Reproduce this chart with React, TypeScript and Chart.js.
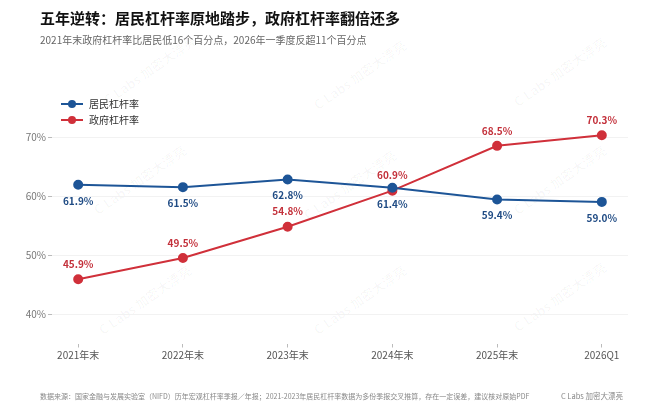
import React, { useEffect, useRef } from "react";
import { Chart, registerables } from "chart.js";

Chart.register(...registerables);

const categories = ["2021年末", "2022年末", "2023年末", "2024年末", "2025年末", "2026Q1"];
const householdValues = [61.9, 61.5, 62.8, 61.4, 59.4, 59.0];
const governmentValues = [45.9, 49.5, 54.8, 60.9, 68.5, 70.3];
const yTickValues = [40, 50, 60, 70];
const seriesNames = ["居民杠杆率", "政府杠杆率"];

const titleText = "五年逆转：居民杠杆率原地踏步，政府杠杆率翻倍还多";
const subtitleText = "2021年末政府杠杆率比居民低16个百分点，2026年一季度反超11个百分点";
const footerText =
  "数据来源：国家金融与发展实验室（NIFD）历年宏观杠杆率季报／年报；2021-2023年居民杠杆率数据为多份季报交叉推算，存在一定误差，建议核对原始PDF";
const brandText = "C Labs 加密大漂亮";

const BLUE = "#1d5597";
const BLUE_LABEL = "#1f4b84";
const RED = "#d0303a";
const RED_LABEL = "#c3303a";
const FONT = '"Noto Sans CJK SC", "Noto Sans", sans-serif';

const labelPlugin = {
  id: "valueLabels",
  afterDatasetsDraw(chart: any) {
    const ctx = chart.ctx;
    chart.data.datasets.forEach((ds: any, i: number) => {
      const meta = chart.getDatasetMeta(i);
      ctx.save();
      ctx.font = `bold 10px ${FONT}`;
      ctx.fillStyle = ds.labelColor;
      ctx.textAlign = "center";
      ctx.textBaseline = "middle";
      meta.data.forEach((pt: any, j: number) => {
        const v = ds.data[j].y;
        ctx.fillText(v.toFixed(1) + "%", pt.x, pt.y + ds.labelOffset);
      });
      ctx.restore();
    });
  },
};

const watermarks = [
  [150, 70], [360, 75], [560, 72],
  [140, 180], [350, 185], [560, 180],
  [145, 300], [360, 300], [560, 297],
];

export default function App() {
  const ref = useRef<HTMLCanvasElement | null>(null);

  useEffect(() => {
    if (!ref.current) return;
    const chart = new Chart(ref.current, {
      type: "line",
      data: {
        datasets: [
          {
            label: seriesNames[0],
            data: householdValues.map((v, i) => ({ x: i, y: v })),
            borderColor: BLUE,
            backgroundColor: BLUE,
            pointBackgroundColor: BLUE,
            pointBorderColor: BLUE,
            borderWidth: 2,
            pointRadius: 4,
            tension: 0,
            labelColor: BLUE_LABEL,
            labelOffset: 16,
          } as any,
          {
            label: seriesNames[1],
            data: governmentValues.map((v, i) => ({ x: i, y: v })),
            borderColor: RED,
            backgroundColor: RED,
            pointBackgroundColor: RED,
            pointBorderColor: RED,
            borderWidth: 2,
            pointRadius: 4,
            tension: 0,
            labelColor: RED_LABEL,
            labelOffset: -15,
          } as any,
        ],
      },
      options: {
        responsive: false,
        animation: false,
        devicePixelRatio: 1,
        layout: { padding: { left: 22, right: 32, top: 107.5, bottom: 45.5 } },
        plugins: { legend: { display: false }, tooltip: { enabled: false } },
        scales: {
          x: {
            type: "linear",
            min: -0.25,
            max: 5.25,
            afterBuildTicks: (scale: any) => {
              scale.ticks = categories.map((_, i) => ({ value: i }));
            },
            afterFit: (scale: any) => {
              scale.height = 20;
            },
            ticks: {
              callback: (v: any) => categories[Math.round(Number(v))] ?? "",
              color: "#555",
              font: { family: FONT, size: 10 },
              padding: 2,
              maxRotation: 0,
              autoSkip: false,
            },
            grid: { drawOnChartArea: false, drawTicks: true, tickLength: 4, tickColor: "#bbb" },
            border: { display: false },
          },
          y: {
            min: 35,
            max: 75,
            afterBuildTicks: (scale: any) => {
              scale.ticks = yTickValues.map((v) => ({ value: v }));
            },
            afterFit: (scale: any) => {
              scale.width = 30;
            },
            ticks: {
              callback: (v: any) => v + "%",
              color: "#777",
              font: { family: FONT, size: 10 },
              padding: 2,
            },
            grid: { color: "#f2f2f2", tickLength: 4, tickColor: "#bbb", lineWidth: 1 },
            border: { display: false },
          },
        },
      } as any,
      plugins: [labelPlugin],
    });
    return () => chart.destroy();
  }, []);

  return (
    <div
      style={{
        position: "absolute",
        left: 0,
        top: 0,
        width: 660,
        height: 409,
        background: "#fff",
        overflow: "hidden",
        fontFamily: FONT,
      }}
    >
      {watermarks.map(([x, y], i) => (
        <div
          key={i}
          style={{
            position: "absolute",
            left: x - 60,
            top: y - 8,
            width: 120,
            textAlign: "center",
            fontSize: 13,
            fontWeight: 700,
            color: "rgba(0,0,0,0.03)",
            transform: "rotate(-35deg)",
            whiteSpace: "nowrap",
            lineHeight: "16px",
          }}
        >
          {brandText}
        </div>
      ))}
      <canvas ref={ref} width={660} height={409} style={{ position: "absolute", left: 0, top: 0 }} />
      <div
        style={{
          position: "absolute",
          left: 40,
          top: 8,
          fontSize: 15,
          fontWeight: 700,
          color: "#111",
          lineHeight: "20px",
          whiteSpace: "nowrap",
        }}
      >
        {titleText}
      </div>
      <div
        style={{
          position: "absolute",
          left: 40,
          top: 33,
          fontSize: 10,
          color: "#666",
          lineHeight: "14px",
          whiteSpace: "nowrap",
        }}
      >
        {subtitleText}
      </div>
      {seriesNames.map((name, i) => {
        const color = i === 0 ? BLUE : RED;
        const y = 104 + i * 16;
        return (
          <div key={name}>
            <div style={{ position: "absolute", left: 61, top: y - 1, width: 22, height: 2, background: color }} />
            <div
              style={{
                position: "absolute",
                left: 68,
                top: y - 4,
                width: 8,
                height: 8,
                borderRadius: 4,
                background: color,
              }}
            />
            <div
              style={{
                position: "absolute",
                left: 89,
                top: y - 7,
                fontSize: 10,
                lineHeight: "14px",
                color: "#333",
                whiteSpace: "nowrap",
              }}
            >
              {name}
            </div>
          </div>
        );
      })}
      <div
        style={{
          position: "absolute",
          left: 40,
          top: 391,
          fontSize: 7,
          color: "#888",
          lineHeight: "10px",
          whiteSpace: "nowrap",
        }}
      >
        {footerText}
      </div>
      <div
        style={{
          position: "absolute",
          right: 37,
          top: 391,
          fontSize: 7.5,
          color: "#888",
          lineHeight: "10px",
          whiteSpace: "nowrap",
        }}
      >
        {brandText}
      </div>
    </div>
  );
}
